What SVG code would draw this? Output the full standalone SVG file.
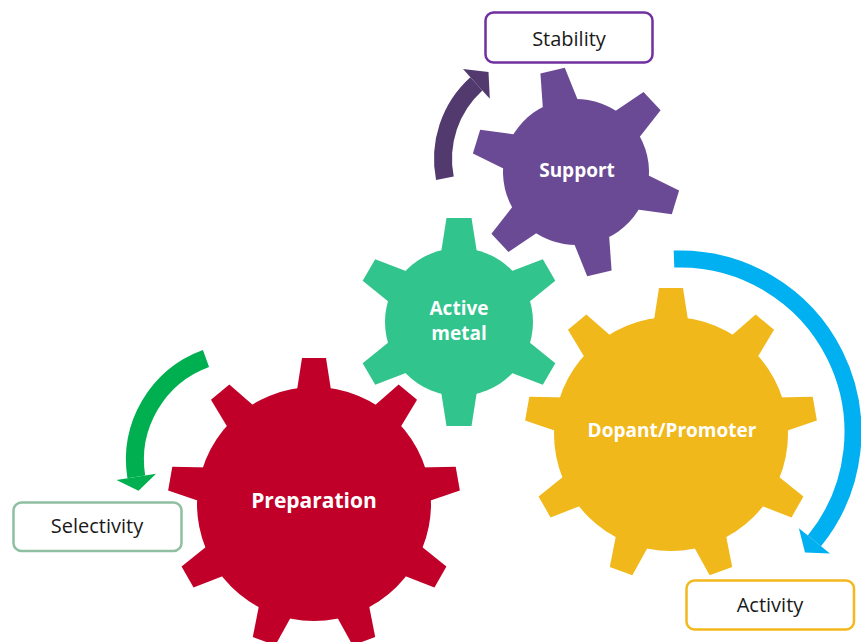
<svg xmlns="http://www.w3.org/2000/svg" xmlns:xlink="http://www.w3.org/1999/xlink" width="861" height="642" viewBox="0 0 861 642">
<style>
.gl{font-family:"Open Sans","Noto Sans","Liberation Sans",sans-serif;font-weight:700;fill:#ffffff;text-anchor:middle}
.bl{font-family:"Open Sans","Noto Sans","Liberation Sans",sans-serif;font-weight:400;fill:#1a1a1a;text-anchor:middle;font-size:20px}
.box{fill:#ffffff;stroke-width:2.5}
.arc{fill:none;stroke-linecap:butt}
</style>
<defs>
<path id="toothL" d="M-12,-146 L12,-146 L17.6,-110 L-17.6,-110 Z"/>
<path id="toothS" d="M-12.5,-104 L12.5,-104 L18.5,-66 L-18.5,-66 Z"/>
</defs>
<rect width="861" height="642" fill="#ffffff"/>

<g id="connectors">
<path class="arc" d="M444.9,178.3 A101,101 0 0 1 476.4,83.9" stroke="#523a6f" stroke-width="18"/>
<polygon points="463,69 488.5,72 489.8,98.8" fill="#523a6f"/>
<path class="arc" d="M206,358.5 A108,108 0 0 0 136.3,476.9" stroke="#00b050" stroke-width="18"/>
<polygon points="116.5,480 138.5,490.7 156.1,473.8" fill="#00b050"/>
<path class="arc" d="M674,259.1 A173,173 0 0 1 814.4,540.9" stroke="#00b0f0" stroke-width="17"/>
<polygon points="798.9,528.3 805,552.6 830,553.5" fill="#00b0f0"/>
</g>

<g id="gear-preparation" fill="#c00028">
<g transform="translate(314 504)">
<circle r="117"/>
<use xlink:href="#toothL"/>
<use xlink:href="#toothL" transform="rotate(40)"/>
<use xlink:href="#toothL" transform="rotate(80)"/>
<use xlink:href="#toothL" transform="rotate(120)"/>
<use xlink:href="#toothL" transform="rotate(160)"/>
<use xlink:href="#toothL" transform="rotate(200)"/>
<use xlink:href="#toothL" transform="rotate(240)"/>
<use xlink:href="#toothL" transform="rotate(280)"/>
<use xlink:href="#toothL" transform="rotate(320)"/>
</g>
<text class="gl" x="314" y="508" font-size="21">Preparation</text>
</g>

<g id="gear-dopant" fill="#f0b81a">
<g transform="translate(671 434)">
<circle r="117"/>
<use xlink:href="#toothL"/>
<use xlink:href="#toothL" transform="rotate(40)"/>
<use xlink:href="#toothL" transform="rotate(80)"/>
<use xlink:href="#toothL" transform="rotate(120)"/>
<use xlink:href="#toothL" transform="rotate(160)"/>
<use xlink:href="#toothL" transform="rotate(200)"/>
<use xlink:href="#toothL" transform="rotate(240)"/>
<use xlink:href="#toothL" transform="rotate(280)"/>
<use xlink:href="#toothL" transform="rotate(320)"/>
</g>
<text class="gl" x="672" y="437" font-size="19">Dopant/Promoter</text>
</g>

<g id="gear-active-metal" fill="#31c48c">
<g transform="translate(459 322)">
<circle r="74"/>
<use xlink:href="#toothS"/>
<use xlink:href="#toothS" transform="rotate(60)"/>
<use xlink:href="#toothS" transform="rotate(120)"/>
<use xlink:href="#toothS" transform="rotate(180)"/>
<use xlink:href="#toothS" transform="rotate(240)"/>
<use xlink:href="#toothS" transform="rotate(300)"/>
</g>
<text class="gl" x="459" y="315" font-size="19">Active</text>
<text class="gl" x="459" y="340" font-size="19">metal</text>
</g>

<g id="gear-support" fill="#6a4a94">
<g transform="translate(576 172) rotate(-13)">
<circle r="73"/>
<use xlink:href="#toothS"/>
<use xlink:href="#toothS" transform="rotate(60)"/>
<use xlink:href="#toothS" transform="rotate(120)"/>
<use xlink:href="#toothS" transform="rotate(180)"/>
<use xlink:href="#toothS" transform="rotate(240)"/>
<use xlink:href="#toothS" transform="rotate(300)"/>
</g>
<text class="gl" x="577" y="177" font-size="19">Support</text>
</g>

<g id="box-stability">
<rect class="box" x="485.5" y="12.5" width="167" height="50" rx="8" stroke="#7030a0"/>
<text class="bl" x="569" y="45.5">Stability</text>
</g>

<g id="box-selectivity">
<rect class="box" x="13.5" y="502.5" width="168" height="48.5" rx="8" stroke="#8fbfa0"/>
<text class="bl" x="97" y="533">Selectivity</text>
</g>

<g id="box-activity">
<rect class="box" x="686.5" y="580.5" width="167.5" height="49" rx="8" stroke="#f2b81c"/>
<text class="bl" x="770" y="612">Activity</text>
</g>
</svg>
